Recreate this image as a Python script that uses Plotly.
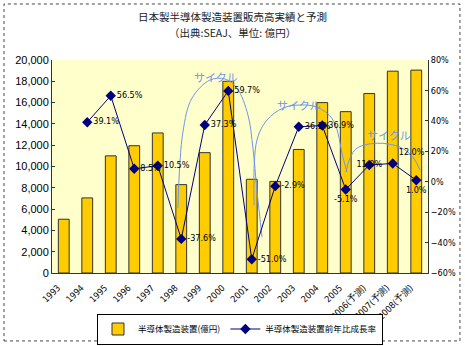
import plotly.graph_objects as go

years = ["1993", "1994", "1995", "1996", "1997", "1998", "1999", "2000", "2001",
         "2002", "2003", "2004", "2005", "2006(予測)", "2007(予測)", "2008(予測)"]
sales = [5050, 7050, 11000, 11950, 13150, 8300, 11300, 18000, 8800,
         8600, 11600, 16000, 15150, 16850, 18950, 19050]
growth = [None, 39.1, 56.5, 8.5, 10.5, -37.6, 37.3, 59.7, -51.0,
          -2.9, 36.1, 36.9, -5.1, 11.0, 12.0, 1.0]
growth_pos = ["middle right"] * 12 + ["bottom center", "middle center", "top right", "bottom center"]

# hand-drawn "cycle" arcs (x in category index units, y in % on right axis)
arc1_x = [4.86, 5.07, 5.46, 6.22, 6.86, 7.37, 7.84, 8.05, 8.22, 8.44]
arc1_y = [-17.4, 32.6, 55.0, 66.8, 67.5, 61.6, 43.8, 22.1, -5.6, -36.5]
arc2_x = [8.10, 8.22, 8.65, 9.33, 10.05, 10.78, 11.46, 11.88, 12.05]
arc2_y = [-15.5, 27.3, 40.5, 48.4, 50.4, 49.0, 40.5, 16.1, 6.3]
arc3_x = [12.01, 12.18, 12.48, 13.33, 14.31, 14.86, 15.16]
arc3_y = [6.3, 15.5, 22.1, 25.3, 22.7, 16.1, 7.6]
cycle_label_x = [6.44, 9.97, 13.80]
cycle_label_y = [68.8, 50.4, 30.6]

title_lines = ["日本製半導体製造装置販売高実績と予測", "（出典:SEAJ、単位: 億円）"]

idx = list(range(len(years)))
NARROW = "Liberation Sans Narrow, DejaVu Sans Condensed, Arial Narrow, sans-serif"
JP = "Noto Sans CJK JP"
ARC = "#6f95ec"

fig = go.Figure()
fig.add_trace(go.Bar(
    x=idx, y=sales, width=0.46, name="半導体製造装置(億円)",
    marker=dict(color="#FFCC00", line=dict(color="#333333", width=1)),
))
for ax, ay in [(arc1_x, arc1_y), (arc2_x, arc2_y), (arc3_x, arc3_y)]:
    fig.add_trace(go.Scatter(
        x=ax, y=ay, yaxis="y2", mode="lines", line=dict(color=ARC, width=1, shape="spline", smoothing=1.0),
        showlegend=False, hoverinfo="skip"))
fig.add_trace(go.Scatter(
    x=idx, y=growth, yaxis="y2", name="半導体製造装置前年比成長率",
    mode="lines+markers+text",
    line=dict(color="#000080", width=1),
    marker=dict(symbol="diamond", size=8, color="#000080"),
    text=[None if g is None else f"{g:.1f}%" for g in growth],
    textposition=growth_pos,
    textfont=dict(family=NARROW, size=9, color="#000000"),
    cliponaxis=False,
))

for lx, ly in zip(cycle_label_x, cycle_label_y):
    fig.add_annotation(x=lx, y=ly, xref="x", yref="y2", text="サイクル", showarrow=False,
                       font=dict(family=JP, size=11, color=ARC))

for line, ty in zip(title_lines, [1.204, 1.127]):
    fig.add_annotation(x=0.479, y=ty, xref="paper", yref="paper", showarrow=False,
                       xanchor="center", yanchor="middle", text=line, borderpad=0,
                       font=dict(family=JP, size=10.5, color="#222222"))

fig.add_shape(type="rect", xref="paper", yref="paper", x0=-0.1277, x1=1.085, y0=-0.319, y1=1.263,
              line=dict(color="#444444", width=1, dash="dot"))

fig.update_layout(
    width=465, height=346,
    margin=dict(l=52, r=37, t=60, b=73, autoexpand=False),
    paper_bgcolor="white", plot_bgcolor="#FFFFCC",
    barmode="overlay",
    xaxis=dict(range=[-0.5, 15.5], tickmode="array", tickvals=idx, ticktext=years,
               tickangle=-45, showline=True, linecolor="#333333", linewidth=1,
               showgrid=False, zeroline=False, ticks="", automargin=False,
               ticklabelstandoff=5, ticklabelshift=-6,
               tickfont=dict(family=NARROW, size=9, color="#000000")),
    yaxis=dict(range=[0, 20000], dtick=2000, tickformat=",", showline=True,
               linecolor="#333333", linewidth=1, showgrid=False, zeroline=False,
               ticks="inside", ticklen=3, tickcolor="#333333", automargin=False,
               tickfont=dict(family="Liberation Sans", size=11, color="#000000")),
    yaxis2=dict(range=[-60, 80], dtick=20, ticksuffix="%", overlaying="y", side="right",
                showline=True, linecolor="#333333", linewidth=1, showgrid=False, zeroline=False,
                ticks="inside", ticklen=3, tickcolor="#333333", automargin=False,
                tickfont=dict(family=NARROW, size=9, color="#000000")),
    legend=dict(orientation="h", x=0.5, xanchor="center", y=1 - 329 / 346, yref="container",
                yanchor="middle",
                bordercolor="#000000", borderwidth=1, bgcolor="white",
                font=dict(family=JP, size=8.5, color="#000000"),
                itemwidth=30, tracegroupgap=0),
    showlegend=True,
)

fig.write_html("out.html")
